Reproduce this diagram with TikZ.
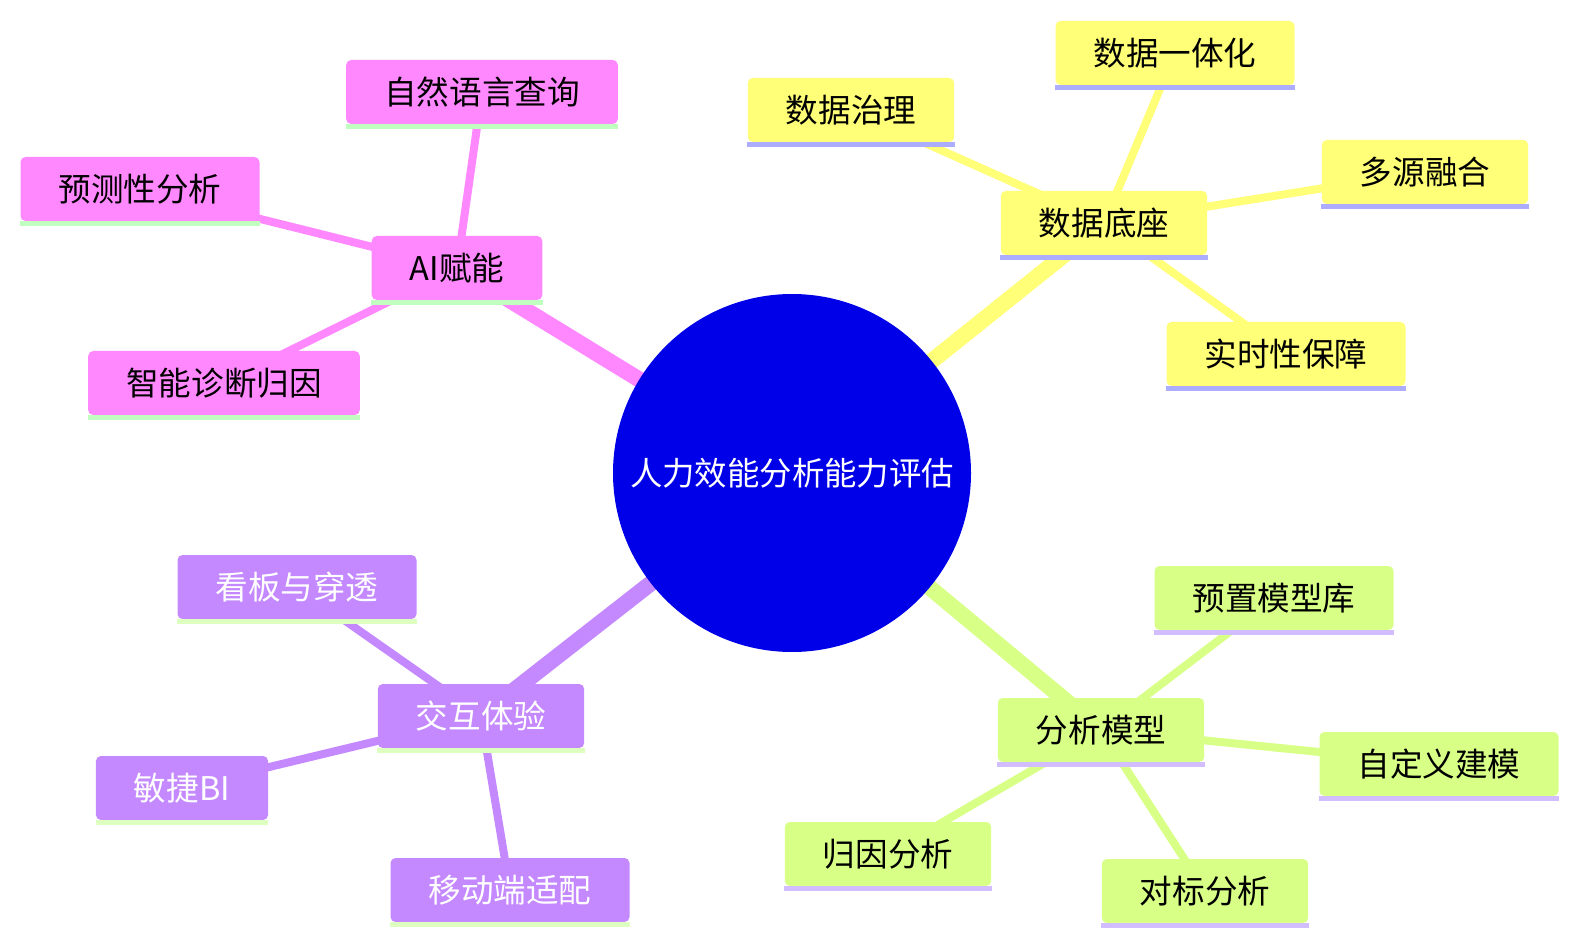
\documentclass[tikz,border=0pt]{standalone}
\usepackage{fontspec}
\setmainfont{Noto Sans CJK SC}
\usetikzlibrary{backgrounds}
\definecolor{rootclr}{HTML}{0000E8}
\definecolor{clr1}{HTML}{FFFF78}
\definecolor{clr2}{HTML}{D8FF86}
\definecolor{clr3}{HTML}{C488FF}
\definecolor{clr4}{HTML}{FF88FF}
\definecolor{uln1}{HTML}{ADADFF}
\definecolor{uln2}{HTML}{D2BEFF}
\definecolor{uln3}{HTML}{DDFFC0}
\definecolor{uln4}{HTML}{C0FFC0}

\begin{document}
\begin{tikzpicture}[
            x=0.5pt, y=-0.5pt,
            root node/.style={circle, fill=rootclr, text=white, minimum size=179pt, inner sep=0pt, font=\fontsize{16.2}{19}\selectfont},
            topic/.style={rectangle, rounded corners=2.5pt, minimum height=32pt, inner xsep=19pt, inner ysep=0pt, font=\fontsize{16.3}{19}\selectfont},
            trunk/.style={line width=8pt},
            branch/.style={line width=4pt},
        ]

        \useasboundingbox (0,0) rectangle (1578,946);

        % Root
        \node[root node] (root) at (792,473) {人力效能分析能力评估};

        % Data foundation
        \node[topic, fill=clr1] (data) at (1104,223) {数据底座};
        \node[topic, fill=clr1] (govern) at (851,110) {数据治理};
        \node[topic, fill=clr1] (unify) at (1175,53) {数据一体化};
        \node[topic, fill=clr1] (fusion) at (1425,172) {多源融合};
        \node[topic, fill=clr1] (realtime) at (1286,354) {实时性保障};

        % Analysis models
        \node[topic, fill=clr2] (model) at (1101,730) {分析模型};
        \node[topic, fill=clr2] (preset) at (1274,598) {预置模型库};
        \node[topic, fill=clr2] (custom) at (1439,764) {自定义建模};
        \node[topic, fill=clr2] (bench) at (1205,891) {对标分析};
        \node[topic, fill=clr2] (attrib) at (888,854) {归因分析};

        % Interaction
        \node[topic, fill=clr3, text=white] (ux) at (481,716) {交互体验};
        \node[topic, fill=clr3, text=white] (board) at (297,587) {看板与穿透};
        \node[topic, fill=clr3, text=white] (agile) at (182,788) {敏捷BI};
        \node[topic, fill=clr3, text=white] (mobile) at (510,890) {移动端适配};

        % AI
        \node[topic, fill=clr4] (ai) at (457,268) {AI赋能};
        \node[topic, fill=clr4] (nlq) at (482,92) {自然语言查询};
        \node[topic, fill=clr4] (predict) at (140,189) {预测性分析};
        \node[topic, fill=clr4] (diag) at (224,383) {智能诊断归因};

        % Underlines
        \foreach \n/\c in {data/uln1, govern/uln1, unify/uln1, fusion/uln1, realtime/uln1,
                           model/uln2, preset/uln2, custom/uln2, bench/uln2, attrib/uln2,
                           ux/uln3, board/uln3, agile/uln3, mobile/uln3,
                           ai/uln4, nlq/uln4, predict/uln4, diag/uln4} {
            \fill[\c] (\n.south west) rectangle ([yshift=-2.2pt]\n.south east);
        }

        % Edges
        \begin{scope}[on background layer]
            \draw[trunk, clr1] (root.center) -- (data.center);
            \draw[trunk, clr2] (root.center) -- (model.center);
            \draw[trunk, clr3] (root.center) -- (ux.center);
            \draw[trunk, clr4] (root.center) -- (ai.center);
            \foreach \n in {govern, unify, fusion, realtime}
                \draw[branch, clr1] (data.center) -- (\n.center);
            \foreach \n in {preset, custom, bench, attrib}
                \draw[branch, clr2] (model.center) -- (\n.center);
            \foreach \n in {board, agile, mobile}
                \draw[branch, clr3] (ux.center) -- (\n.center);
            \foreach \n in {nlq, predict, diag}
                \draw[branch, clr4] (ai.center) -- (\n.center);
        \end{scope}

\end{tikzpicture}
\end{document}
